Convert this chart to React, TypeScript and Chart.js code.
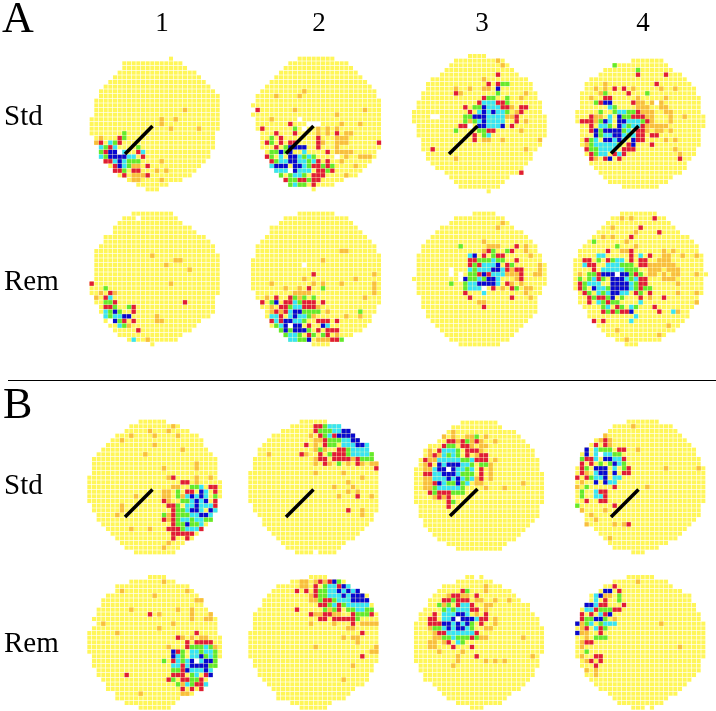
import React, { useEffect, useRef } from "react";
import { Chart, registerables } from "chart.js";

Chart.register(...registerables);

type Disc = [number, number, number][];
type Marks = [number, string][];

const a1Disc: Disc = [[1,19,19],[2,9,21],[3,9,22],[4,8,24],[5,7,25],[6,6,26],[7,5,27],[8,4,28],[9,4,29],[10,3,29],[11,3,29],[12,3,29],[13,3,29],[14,2,29],[15,2,29],[16,2,29],[17,2,28],[18,3,28],[19,3,28],[20,4,28],[21,4,27],[22,4,27],[23,5,26],[24,6,25],[25,7,24],[26,8,23],[27,10,21],[28,12,18],[29,14,16]];
const a1Marks: Marks = [[12,"o22"],[14,"o17 o20"],[15,"o17"],[16,"o19 o25"],[17,"g9"],[18,"o4 r8 g9"],[19,"o3 r4 c6 g7 r8"],[20,"c4 g5 r6 c7 g12"],[21,"g4 r5 b6 b7 w8 c9 r12 c13"],[22,"c4 g5 b6 b7 b8 b9 c10 c11 r13"],[23,"r5 r6 c7 b8 c9 g10 g11 g12 o17"],[24,"r7 b8 c9 g10 o11 o12 r14"],[25,"r7 r8 g9 r11 r12 o16 o18"],[26,"r9 o11 o12 o13 r14"],[27,"o11 o12 o17"]];
const a1Line = [[125, 154], [152.5, 126]];

const a2Disc: Disc = [[1,12,19],[2,10,22],[3,9,23],[4,8,24],[5,7,25],[6,6,26],[7,5,27],[8,4,28],[9,3,28],[10,3,29],[11,2,29],[12,3,29],[13,2,29],[14,3,29],[15,3,29],[16,3,29],[17,4,29],[18,4,29],[19,4,29],[20,4,29],[21,5,28],[22,5,28],[23,6,27],[24,6,26],[25,7,25],[26,8,24],[27,9,21],[28,10,19],[29,15,15]];
const a2Marks: Marks = [[8,"o13"],[9,"o7 o12"],[12,"r3 o11 o26"],[13,"o20"],[14,"o6 w12"],[15,"r10 w14 w15 w16 o21 o25"],[16,"r4 g11 w13 o16 o18 o20"],[17,"r7 r11 o16 o18 r20 o22 o23"],[18,"g6 r8 r16 o20 o21 o22"],[19,"r5 g6 r8 r10 r11 r16 o17 o20 o21 o22 r29"],[20,"r7 g9 b10 b11 b12 b13 r16 o20"],[21,"g6 g7 b8 g9 b10 c13 r18 o20 o21 o22 o23"],[22,"r5 g6 c8 b10 b11 c12 g13 c14 g15 w20 o22 o25 o26 o27"],[23,"r6 g7 c8 c9 b10 b11 c12 c13 g14 c15 r16 r18 o21"],[24,"c6 b7 b8 b9 b11 b12 c13 g14 r15 r16 g17 r18 g19 o24"],[25,"c7 c8 c9 w10 b11 c12 c13 c14 r16 r17 g18 r19"],[26,"g8 g10 c11 c12 g13 r15 r16 r17 o22"],[27,"r9 g10 g11 r12 r13 g14 r15 r16"],[28,"g10 c11 g12 g13 r15"]];
const a2Line = [[286, 153.5], [313.5, 126]];

const a3Disc: Disc = [[1,13,16],[2,10,20],[3,9,21],[4,8,22],[5,7,23],[6,5,25],[7,4,26],[8,4,26],[9,3,27],[10,3,27],[11,2,28],[12,2,28],[13,1,28],[14,1,29],[15,1,29],[16,2,29],[17,2,29],[18,2,29],[19,3,28],[20,3,28],[21,3,27],[22,4,26],[23,4,26],[24,5,25],[25,6,24],[26,8,24],[27,9,21],[28,10,20],[29,11,19],[30,17,17]];
const a3Marks: Marks = [[2,"o19"],[3,"o20"],[5,"r19"],[6,"o16"],[7,"r17 r19 g20 g21"],[8,"o10 o13 o16 o17 b19"],[9,"r10 o11 g19 o25"],[10,"r16 g17 g18 g21 o24"],[11,"r15 c16 c17 c18 r19 r20 g21"],[12,"r12 g14 g15 b16 c17 c18 c19 r20 r21 o22 r24 r25"],[13,"r13 c15 b16 c17 b18 c19 c20 g21 o23 r24"],[14,"w5 w6 g12 g13 b14 b15 b16 c17 c18 c19 c20 o21 o22 r23"],[15,"g12 o13 g14 c15 b16 c17 c18 c19 c20 r23 o25"],[16,"r11 r12 w13 b15 b16 c17 c18 c19 b20 r22"],[17,"g10 g15 g16 r17 r18 o24"],[18,"r14 g16 c17"],[19,"r14 o16 o17 o20 o28"],[21,"r5 o25"],[23,"o10"],[26,"r24"]];
const a3Line = [[449, 154], [477.5, 126]];

const a4Disc: Disc = [[2,14,20],[3,10,21],[4,8,22],[5,7,24],[6,5,25],[7,4,26],[8,4,27],[9,3,27],[10,3,28],[11,3,28],[12,3,28],[13,2,28],[14,2,29],[15,2,29],[16,3,29],[17,3,28],[18,3,28],[19,3,28],[20,3,28],[21,4,27],[22,4,27],[23,5,26],[24,5,25],[25,6,25],[26,7,24],[27,8,22],[28,9,21],[29,12,19]];
const a4Marks: Marks = [[3,"g10"],[4,"g15"],[5,"r15 r21"],[7,"o8 r19"],[8,"o6 o8 r10 r12 o14 o20 o23"],[9,"o7 g8 r13 g17"],[10,"o5 r8 r9 o15 o21"],[11,"g6 r7 b8 b9 r14 o15 o16 o18 w19 o20"],[12,"c9 g10 o15 o16 o17 o20 o21"],[13,"g7 g10 c11 c12 g13 g14 r15 o16 o17 o18 o21 o22"],[14,"r5 o6 o7 c9 b11 g12 g13 r14 r15 r16 o17 o18 o22 o25"],[15,"r3 r4 r5 o6 g7 b8 c9 b11 b12 c13 c14 c15 g16 r17 o18 o22"],[16,"r5 c7 c8 g9 b11 c12 g13 c14 c15 r16 o17 o18 o19 o20 o21"],[17,"r5 b6 g7 b8 b9 b10 b11 g12 c13 r15 r16 o17 o19 o20 o22"],[18,"b6 g7 c8 c9 b10 b11 c12 g13 c14 r15 r16 r18 r19"],[19,"r4 g5 c6 b8 b9 c10 b11 c12 b14 r15 r16 o21 o23"],[20,"o4 g5 c6 c7 c8 c9 c10 g11 r13 b14 r18"],[21,"r4 g5 g6 c7 c8 c9 c10 r12 r13 r14 o23"],[22,"r5 g6 c7 c8 r10 c11 r12 o24"],[23,"r5 o6 r8 b9 r11 r24"]];
const a4Line = [[611, 153.5], [638.5, 126]];

const a5Disc: Disc = [[1,11,19],[2,9,20],[3,8,21],[4,7,23],[5,7,24],[6,5,26],[7,5,27],[8,4,28],[9,3,28],[10,3,29],[11,3,29],[12,3,29],[13,3,29],[14,3,29],[15,3,29],[16,2,29],[17,2,29],[18,2,29],[19,3,28],[20,3,28],[21,4,28],[22,4,28],[23,5,27],[24,5,25],[25,6,24],[26,7,23],[27,8,21],[28,10,20],[29,15,15]];
const a5Marks: Marks = [[2,"w12"],[10,"o15"],[11,"o20 o21"],[12,"o18"],[13,"o23"],[16,"r2 o19"],[17,"g5"],[18,"o4 r6 o7"],[19,"o3 r5 c6"],[20,"g5 g6 r7 r22"],[21,"r5 r6 g7 g10 r11"],[22,"c5 g6 b7 g8 r11"],[23,"c5 g6 c7 c8 b9 b10 o16"],[24,"w6 b7 g8 r9 r11 o16 o17"],[25,"c8 g9 o10"],[26,"r12"],[28,"c11 o14"]];

const a6Disc: Disc = [[1,12,19],[2,9,22],[3,8,23],[4,6,24],[5,6,25],[6,5,26],[7,4,27],[8,3,28],[9,3,28],[10,3,29],[11,2,29],[12,2,29],[13,2,29],[14,2,29],[15,2,29],[16,2,29],[17,2,29],[18,3,29],[19,3,29],[20,4,29],[21,4,28],[22,5,28],[23,5,27],[24,6,27],[25,6,26],[26,8,25],[27,9,23],[28,10,20],[29,15,18]];
const a6Marks: Marks = [[9,"o21 o22"],[11,"o17"],[12,"w13"],[14,"r15 o28"],[15,"o13 o24"],[16,"o6 o15 o17 o21 o28"],[17,"o9 o12 r14 g17 o28"],[18,"o11 o12 o13 o14 o28"],[19,"o5 r7 r10 g11 o12 g13 g15 o26"],[20,"r4 g6 b7 r9 r10 c11 g12 r13 r14 r15 r17"],[21,"o6 r8 r9 g10 c11 c12 r13 r14 r15 o16"],[22,"o6 r7 o8 r9 c10 b11 b12 g13 g14 g15 g16 o18 g25"],[23,"c6 c7 r8 c10 b11 c12 c13 g14 o15 o22 o25"],[24,"r6 c7 r8 b9 b10 c11 c12 g13 r16 r17 r18 r20"],[25,"g7 c8 b9 w10 b11 b12 r14 b17 c18"],[26,"g8 b9 g10 b11 b12 b13 g14 r16 r18 r19 r20"],[27,"g9 c10 c11 g12 r14 g15 g17 r18 o20"],[28,"c10 c11 g12 g13 b14 o16 o17 o18 r19 r20 g21"]];

const a7Disc: Disc = [[1,14,18],[2,10,20],[3,9,21],[4,7,22],[5,6,24],[6,5,25],[7,4,26],[8,3,27],[9,3,27],[10,2,28],[11,2,28],[12,2,29],[13,2,29],[14,2,29],[15,1,29],[16,2,29],[17,2,28],[18,2,28],[19,3,27],[20,3,27],[21,3,27],[22,4,27],[23,4,26],[24,5,25],[25,6,24],[26,7,23],[27,8,22],[28,9,21],[29,11,19]];
const a7Marks: Marks = [[3,"o20"],[4,"o19"],[7,"o16"],[8,"g11 o17 o18 o19 r23 o25"],[9,"o16 r17 g18 g21 r22 o25"],[10,"c13 b14 r16 g18 r19 r20 o26"],[11,"r13 r14 g15 g16 g17 c18 g19 g20 r23"],[12,"r13 g14 r15 c16 c17 c18 b19 r21 g22 o28"],[13,"w9 c13 g14 c15 c16 c17 b18 b19 c20 r21 o22 r23 r24 o28"],[14,"w9 w11 g13 g14 r15 b16 r17 c18 c19 c20 o21 o22 o23 r24 o27 o28"],[15,"w11 b12 g13 g14 c15 g16 b17 b18 c19 o23 r24"],[16,"g9 g12 c13 c14 b15 b16 b17 b18 c19 r21 o22 o24"],[17,"g12 c13 c14 c15 w16 r18 o20 r22 g23 o25 o26"],[18,"r12 c16 o25"],[19,"r13 r22 o26"],[20,"o15 o16"],[21,"r16"]];

const a8Disc: Disc = [[1,11,18],[2,9,20],[3,8,21],[4,7,22],[5,6,23],[6,5,25],[7,4,26],[8,3,27],[9,2,27],[10,2,28],[11,1,28],[12,1,28],[13,1,28],[14,1,29],[15,1,28],[16,1,28],[17,1,28],[18,2,28],[19,2,27],[20,2,27],[21,3,26],[22,4,25],[23,4,25],[24,5,24],[25,6,23],[26,7,22],[27,8,20],[28,10,19],[29,12,14]];
const a8Marks: Marks = [[2,"o11 o13 r18"],[4,"o9 r15"],[5,"o14 r19"],[6,"o7 o9 r13"],[7,"g5 o12"],[8,"g10 o14"],[9,"r8 o11 o12 r13 o20 o22"],[10,"c6 c7 r13 c15 r17 o20 o21 o24 o27"],[11,"r3 r4 g6 r8 g9 c10 c11 r13 r15 r16 o19 o20 o21"],[12,"c3 r4 r5 c8 c9 c10 g11 g12 g13 r15 r16 o17 o18 o19 o20 o21 o22"],[13,"r5 c7 c8 c9 c10 c11 g12 g13 g14 o17 o18 o19 o21 o22 o23"],[14,"o2 g4 g5 r6 b7 b8 b9 w10 b11 b12 g13 r14 g15 o17 o18 o20 o22 o23 o27"],[15,"g2 g4 c5 r6 g7 b9 b10 b11 c12 g13 c14 r15 r16 o20 o21 o22"],[16,"r2 g3 c4 c5 c6 b9 b10 b11 b12 c13 g14 r15 r16 o23"],[17,"r2 g3 b5 c6 c7 g8 b9 b10 b11 b12 c13 g14 r15 g16 g17"],[18,"r3 g4 c6 g7 c8 b9 b10 c11 c12 r14 g15 r17 o23 o27"],[19,"r4 g5 r6 r7 g8 b9 g11 r15 o17 r20"],[20,"r4 c6 g7 r8 g9 g10 c15 o27"],[21,"g7 c8 r10 g11 c13 g14 r18"],[22,"r7 g8 r9 g10 r11 r12 b13 r19 c22 o23"],[23,"c14"],[24,"r5 r7 c13"],[25,"o21"],[26,"o10"],[27,"o19"],[28,"o12"]];

const b1Disc: Disc = [[1,13,18],[2,11,21],[3,10,23],[4,8,25],[5,7,26],[6,6,26],[7,5,27],[8,4,28],[9,3,29],[10,3,29],[11,3,29],[12,3,29],[13,2,29],[14,2,30],[15,2,30],[16,2,30],[17,2,30],[18,2,29],[19,3,29],[20,3,29],[21,4,28],[22,4,28],[23,5,27],[24,6,26],[25,7,25],[26,8,24],[27,9,22],[28,10,21],[29,12,20]];
const b1Marks: Marks = [[2,"o20"],[3,"o15 o19"],[4,"o11 o16 o21"],[5,"o9"],[6,"o16"],[7,"o22"],[8,"o14"],[10,"o25"],[11,"o18 o25"],[13,"o19 r20 o25 o28"],[14,"r22 r23 o25"],[15,"o20 o21 g24 g25 c26 r28 r29"],[16,"o18 o19 g21 r23 r24 b26 c27 r29"],[17,"o12 o18 o19 g21 o22 c23 b24 c25 b26 c27 g29"],[18,"r18 o19 g22 g23 c24 b25 c26 b27 r29"],[19,"o9 r19 r20 g21 c23 c24 b25 c26 c27 c28 r29"],[20,"o9 r20 g21 g22 c23 b24 b25 c26 b28 c29"],[21,"o8 g18 o19 r20 g21 g22 g23 c24 c25 b26 b27 c28"],[22,"r18 o19 r20 g21 c22 c23 g24 c25 c26 g27 g28"],[23,"r20 g21 g22 b23 g24 g25 c26"],[24,"o11 o15 r19 r20 r21 g22 c23 c24 c25 r26"],[25,"r20 r21 r22 r23 r24"],[26,"r20 r23"],[27,"o19"],[28,"o18"]];
const b1Line = [[125, 517], [152.5, 489.5]];

const b2Disc: Disc = [[1,13,18],[2,11,21],[3,9,23],[4,7,24],[5,6,25],[6,5,27],[7,4,27],[8,4,28],[9,3,28],[10,3,29],[11,3,29],[12,2,29],[13,2,29],[14,2,29],[15,2,29],[16,2,29],[17,2,29],[18,2,29],[19,3,29],[20,3,29],[21,4,28],[22,5,28],[23,5,27],[24,6,26],[25,7,25],[26,8,24],[27,9,22],[28,10,21],[29,12,20]];
const b2Marks: Marks = [[2,"r16 r17 g18 c19 c20 c21"],[3,"r16 g17 g18 g19 c20 c21 b22 b23"],[4,"o15 r17 g18 c19 r20 b21 b22 b23 b24"],[5,"o16 o17 r18 g19 g20 g21 c22 c23 b24 b25"],[6,"r14 o16 r18 g19 g20 c22 c23 c24 b25 b26 c27"],[7,"o16 g17 o18 r21 r22 g23 c24 c25 c26 c27"],[8,"o6 r13 o14 r17 g19 r20 r21 r22 g23 c24 c25 c26 c27 g28"],[9,"o16 r17 r18 r20 r21 r22 r23 o24 r25 g26 g27 g28"],[10,"o16 r18 o19 g21 o23 r25 o26 o28 o29"],[11,"r29"],[12,"o16 o22"],[13,"o26"],[14,"o23"],[15,"o20 o24"],[16,"o23 o25"],[17,"o21 r25 o28"],[20,"r23 o26"],[21,"o26"],[29,"w16"]];
const b2Line = [[286, 517], [313.5, 489.5]];

const b3Disc: Disc = [[1,12,19],[2,10,20],[3,9,23],[4,8,24],[5,7,25],[6,5,26],[7,4,27],[8,4,27],[9,3,28],[10,3,28],[11,2,28],[12,2,29],[13,2,29],[14,2,29],[15,2,29],[16,2,29],[17,2,29],[18,2,29],[19,3,28],[20,3,28],[21,3,28],[22,4,27],[23,4,26],[24,5,25],[25,6,24],[26,7,23],[27,9,21],[28,11,20]];
const b3Marks: Marks = [[3,"o10"],[4,"o8 o10 o13 o14 g15 o17"],[5,"r9 r10 o11 r12 g13 o14 r15 o16 o19"],[6,"r8 g9 g10 r12 r13 o14 o16 o17"],[7,"o5 r7 c8 c9 c10 g11 r13 r14 r15 o16"],[8,"o5 r6 o7 c8 g9 c10 g11 r13 o15 r16 r17"],[9,"r4 o5 o6 c7 c8 c9 c10 c11 g12 g13 c14 r15 r16 r17 o19"],[10,"o4 r5 b7 c8 b9 b10 b11 c12 c13 g14 g16 g17 o18"],[11,"o4 o5 c6 b7 b8 w9 b10 c11 c12 g13 c14 r16 o18"],[12,"r4 r5 c6 c7 b8 b9 b10 c11 g12 g13 g14 r16 o18"],[13,"o4 o5 c6 c7 c8 b9 c10 b11 c12 g13 c14 o15 r16 o18"],[14,"o4 o5 r6 b7 c8 g9 g10 b11 g12 c13 o15 o16 o25"],[15,"o4 o5 g6 c7 c8 c9 c10 c11 g12 o17 o21"],[16,"r5 g6 r7 r8 r9 g10 g11 g12"],[17,"o6 r7 o8 r9"],[18,"r9 g10"],[19,"r9"]];
const b3Line = [[450, 516], [477.5, 489]];

const b4Disc: Disc = [[1,13,19],[2,10,22],[3,9,23],[4,8,24],[5,6,25],[6,5,26],[7,4,27],[8,3,27],[9,3,28],[10,3,28],[11,2,29],[12,2,29],[13,2,29],[14,2,29],[15,2,29],[16,2,29],[17,2,29],[18,2,29],[19,2,28],[20,3,28],[21,4,28],[22,4,27],[23,5,26],[24,6,25],[25,7,24],[26,8,23],[27,9,21],[28,10,19],[29,14,16]];
const b4Marks: Marks = [[2,"o14"],[4,"o8"],[5,"o7 r8 o9"],[6,"r6 r8 o9"],[7,"b4 c6 g7 g8 g9 r11 r12 o15"],[8,"b4 c6 w7 c8 c9 g10 g11"],[9,"g3 r4 r5 c6 b8 b9 c10 c11 r12"],[10,"r3 r5 g7 g9 b10 c11 g12"],[11,"r3 g4 b6 b7 b8 c10 g12 r13 o21 o28"],[12,"r3 o4 c6 b7 b8 b10 r12 r13"],[13,"r2 r4 g5 c6 c7 b8 c10 c11"],[14,"o3 b6 b8 c9 c10"],[15,"o2 g4 r10 o17"],[16,"g3 c6 r7 r8"],[17,"g3 c6 c7 r8"],[18,"r4 r7 r8"],[19,"g2 r10"],[20,"o3 o8"],[21,"o5"],[22,"o6"],[23,"o4 o10 o12 r13"],[26,"o9"]];
const b4Line = [[611, 517], [638.5, 489.5]];

const b5Disc: Disc = [[2,15,18],[3,11,20],[4,8,23],[5,8,24],[6,6,25],[7,5,26],[8,5,26],[9,4,27],[10,4,28],[11,3,29],[12,4,29],[13,3,29],[14,2,29],[15,2,30],[16,2,30],[17,2,30],[18,2,30],[19,3,30],[20,3,29],[21,3,29],[22,4,28],[23,4,28],[24,5,27],[25,6,27],[26,6,26],[27,8,24],[28,8,21],[29,10,20],[30,13,19]];
const b5Marks: Marks = [[3,"o18"],[5,"o9 o23"],[6,"o16"],[7,"o25 o26"],[9,"o11 o21 o24"],[10,"r15 o17 o24 o28"],[11,"o24 o27 o28"],[12,"o5 o20"],[13,"o17"],[14,"o8 r25"],[15,"r21 o22 o24 o26 o27"],[16,"r23 r25 r26 r27 r28"],[17,"o19 r23 g24 g25 g26 c27 g28 o29"],[18,"b20 r21 g22 c24 c25 g26 c27 c28 g29"],[19,"b20 c21 g22 c24 c25 b26 g27 c28 g29"],[20,"g18 r20 c21 g22 c23 b24 w25 c26 b27 b28 g29"],[21,"c20 c21 r22 c23 b24 b25 b26 b27 g28 g29"],[22,"g20 g21 r22 b23 c24 c25 c26 b27 c28"],[23,"r10 r20 r21 r22 g24 c25 r27 b28"],[24,"r19 g20 r22 r23 g24 g25 r26"],[25,"g21 o22 c23 g24 r25 r26 c27"],[26,"r22 r24 r26"],[27,"o13 o22 o23"]];

const b6Disc: Disc = [[2,15,18],[3,11,22],[4,8,23],[5,7,25],[6,6,27],[7,5,27],[8,5,28],[9,4,28],[10,3,29],[11,3,29],[12,3,29],[13,3,29],[14,2,29],[15,2,29],[16,2,29],[17,2,29],[18,2,29],[19,2,29],[20,3,29],[21,3,28],[22,4,28],[23,4,27],[24,5,27],[25,6,26],[26,7,24],[27,8,23],[28,8,22],[29,11,19],[30,13,18]];
const b6Marks: Marks = [[3,"o13 o14 o16 r17 o18 r19 b20 g21"],[4,"o13 o14 r16 g18 c19 c20 r21 b22 c23"],[5,"r12 r14 r16 g17 g18 c19 c20 b21 c22 b23 c24 b25"],[6,"o15 r16 g17 g18 c19 c20 c21 b22 c23 b24 b25 b26"],[7,"o15 o16 g17 r18 r19 g20 c21 c22 c23 b24 b25 b26 b27"],[8,"r17 r18 g19 c20 r21 g22 c23 c24 c25 c26 c27"],[9,"r12 g18 o19 g20 r21 g23 g24 c25 c26 g27 g28"],[10,"r15 o16 o17 r18 r19 o20 o21 r24 g25 g26 g27 r28"],[11,"r17 r18 r20 r21 r22 r23 r24 g25"],[12,"o15 o20 r24 o26 o27 o28 o29"],[13,"o23 o24"],[14,"r26"],[15,"o22 o24 o25"],[16,"o25"],[17,"o16 o29"],[18,"o28 o29"],[19,"r26"],[21,"o24"],[24,"o22"]];

const b7Disc: Disc = [[2,13,16],[3,11,18],[4,8,20],[5,7,22],[6,6,23],[7,5,24],[8,5,26],[9,4,26],[10,3,27],[11,3,28],[12,2,28],[13,2,29],[14,2,29],[15,2,29],[16,2,29],[17,2,29],[18,2,29],[19,2,28],[20,2,28],[21,3,28],[22,3,27],[23,4,27],[24,4,26],[25,6,25],[26,7,24],[27,8,22],[28,9,21],[29,11,20],[30,14,16]];
const b7Marks: Marks = [[2,"w15"],[4,"o17"],[5,"r12 g13 o17"],[6,"o9 r10 r11 o12 o13 r15"],[7,"r8 r9 g10 r11 r12 r13 o15 o16 o19 o22"],[8,"g7 o8 g9 r11 c12 c13 r14 o17 o18"],[9,"g8 c9 g10 c11 c12 c13 r14 r15 o17"],[10,"r6 c8 c9 c10 b11 b12 c13 o15 r17"],[11,"r5 r6 c8 c9 b10 w11 b12 b13 b14 c15 r16 r17 o19"],[12,"r5 r6 r7 b8 b9 c10 b11 c12 b13 g14 r16 o19"],[13,"o5 g6 g7 c8 b9 c10 b11 b12 c13 g14 o17 o18"],[14,"o6 r7 r8 c9 c10 c11 c12 c13 c14 r15"],[15,"o6 o7 g8 g9 c10 g11 g12 g13 r14 g15 o16 o17 o25"],[16,"o5 o6 o8 r9 c11 g12"],[17,"o5 o6 r10 r14"],[18,"o7 o12"],[19,"o11 r15 o27"],[20,"o11 o17 o19 o21"],[21,"o10"]];

const b8Disc: Disc = [[2,13,18],[3,10,21],[4,8,22],[5,7,24],[6,5,26],[7,5,26],[8,4,27],[9,3,27],[10,3,28],[11,3,28],[12,2,29],[13,2,29],[14,2,29],[15,2,29],[16,2,29],[17,2,29],[18,2,29],[19,2,29],[20,3,28],[21,3,28],[22,4,28],[23,4,27],[24,5,26],[25,6,25],[26,7,24],[27,9,23],[28,10,21],[29,11,20],[30,14,18]];
const b8Marks: Marks = [[3,"o15"],[4,"r10"],[5,"b8 b9 r11"],[6,"c6 b7 o8 o9 g11"],[7,"c6 r8 g11"],[8,"b4 b5 c6 r7 r8 r12"],[9,"c4 c5 r6 g7 g8 g9 r10 r11"],[10,"r3 r5 c7 r8 b9"],[11,"r3 g4 g5 b6 b7 g8 o10"],[12,"b2 o3 g4 c5 g7 c8 c9 c10 o20"],[13,"o3 r4 c6 r7 g8"],[14,"b2 o3 o4 r7"],[15,"o4 g6 g7 g8"],[16,"o3 r4 r5"],[17,"o3 o24"],[18,"g4"],[19,"o3 r6 r7"],[20,"o4 r5 r7"],[21,"r6"],[22,"o4 o6"],[23,"o6"],[30,"w17"]];

const columnLabels = ["1", "2", "3", "4"];
const rowLabels = ["Std", "Rem", "Std", "Rem"];
const sectionLabels = ["A", "B"];
const separator = [[8, 380.5], [716, 380.5]];

// Panel layout: pixel position of grid cell (0,0) for every panel.
const panels: { disc: Disc; marks: Marks; x: number; y: number }[] = [
  { disc: a1Disc, marks: a1Marks, x: 82.33, y: 54 },
  { disc: a2Disc, marks: a2Marks, x: 243.67, y: 54 },
  { disc: a3Disc, marks: a3Marks, x: 409.33, y: 51.33 },
  { disc: a4Disc, marks: a4Marks, x: 568, y: 51.33 },
  { disc: a5Disc, marks: a5Marks, x: 82.33, y: 209 },
  { disc: a6Disc, marks: a6Marks, x: 243.67, y: 209 },
  { disc: a7Disc, marks: a7Marks, x: 409.33, y: 209 },
  { disc: a8Disc, marks: a8Marks, x: 570.67, y: 209 },
  { disc: b1Disc, marks: b1Marks, x: 80, y: 417 },
  { disc: b2Disc, marks: b2Marks, x: 241, y: 417 },
  { disc: b3Disc, marks: b3Marks, x: 406.67, y: 418 },
  { disc: b4Disc, marks: b4Marks, x: 568, y: 417 },
  { disc: b5Disc, marks: b5Marks, x: 80, y: 567.67 },
  { disc: b6Disc, marks: b6Marks, x: 241, y: 567.67 },
  { disc: b7Disc, marks: b7Marks, x: 406.67, y: 567.67 },
  { disc: b8Disc, marks: b8Marks, x: 568, y: 567.67 },
];
const stimulusLines = [a1Line, a2Line, a3Line, a4Line, b1Line, b2Line, b3Line, b4Line];

const STEP = 14 / 3;
const COLORS: Record<string, string> = {
  y: "#FFF658",
  o: "#F8BE3C",
  r: "#E01C36",
  g: "#62EA2C",
  c: "#38E4F4",
  b: "#0808D0",
  w: "#FFFFFF",
};

export default function App() {
  const ref = useRef<HTMLCanvasElement | null>(null);
  useEffect(() => {
    if (!ref.current) return;
    const pts: Record<string, { x: number; y: number }[]> = { y: [], o: [], r: [], g: [], c: [], b: [], w: [] };
    for (const p of panels) {
      for (const [row, from, to] of p.disc)
        for (let c = from; c <= to; c++) pts.y.push({ x: p.x + c * STEP, y: p.y + row * STEP });
      for (const [row, s] of p.marks)
        for (const m of s.split(" "))
          pts[m[0]].push({ x: p.x + Number(m.slice(1)) * STEP, y: p.y + row * STEP });
    }
    const cellSets = ["w", "b", "c", "g", "r", "o", "y"].map((k) => ({
      type: "scatter" as const,
      label: k,
      data: pts[k],
      pointStyle: "rect" as const,
      pointRadius: k === "w" ? 3.4 : k === "y" ? 2.85 : 3.05,
      pointBorderWidth: 0,
      pointBackgroundColor: COLORS[k],
      showLine: false,
    }));
    const lineSets = [...stimulusLines, separator].map((l, i) => ({
      type: "scatter" as const,
      label: i < stimulusLines.length ? "stimulus" : "separator",
      data: l.map(([x, y]) => ({ x, y })),
      showLine: true,
      borderColor: "#000000",
      borderWidth: i < stimulusLines.length ? 3.6 : 1,
      pointRadius: 0,
    }));
    const textPlugin = {
      id: "panelText",
      afterDraw(chart: Chart) {
        const { ctx } = chart;
        const sx = chart.scales.x;
        const sy = chart.scales.y;
        ctx.save();
        ctx.fillStyle = "#000";
        ctx.textBaseline = "alphabetic";
        ctx.font = '44px "Liberation Serif"';
        ctx.textAlign = "left";
        ctx.fillText(sectionLabels[0], sx.getPixelForValue(2), sy.getPixelForValue(32));
        ctx.fillText(sectionLabels[1], sx.getPixelForValue(3), sy.getPixelForValue(418));
        ctx.font = '27px "Liberation Serif"';
        ctx.textAlign = "center";
        [162, 319, 482, 643].forEach((x, i) => ctx.fillText(columnLabels[i], sx.getPixelForValue(x), sy.getPixelForValue(31)));
        ctx.font = '29px "Liberation Serif"';
        ctx.textAlign = "left";
        [125, 290, 494, 652].forEach((y, i) => ctx.fillText(rowLabels[i], sx.getPixelForValue(4), sy.getPixelForValue(y)));
        ctx.restore();
      },
    };
    const chart = new Chart(ref.current, {
      type: "scatter",
      data: { datasets: [...lineSets, ...cellSets] as any },
      plugins: [textPlugin as any],
      options: {
        responsive: false,
        animation: false,
        layout: { padding: 0, autoPadding: false },
        plugins: { legend: { display: false }, tooltip: { enabled: false }, title: { display: false } },
        scales: {
          x: { type: "linear", min: 0, max: 716, display: false },
          y: { type: "linear", min: 0, max: 711, reverse: true, display: false },
        },
      },
    });
    return () => chart.destroy();
  }, []);
  return (
    <div style={{ position: "absolute", left: 0, top: 0, width: 716, height: 711, background: "#fff" }}>
      <canvas ref={ref} width={716} height={711} style={{ display: "block" }} />
    </div>
  );
}
